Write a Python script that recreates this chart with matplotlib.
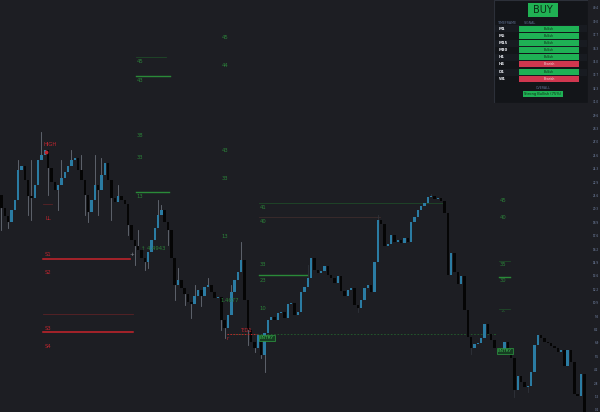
import matplotlib
matplotlib.use("Agg")
import matplotlib.pyplot as plt
from matplotlib.patches import Rectangle
import numpy as np

# price series (one value per candle)
first_open = 217
closes = [204, 196, 190, 202, 212, 242, 246, 232, 216, 214,
          227, 252, 257, 262, 244, 230, 222, 227, 234, 240,
          246, 252, 254, 242, 232, 217, 200, 212, 227, 222,
          237, 249, 232, 214, 210, 216, 212, 208, 187, 172,
          166, 162, 154, 150, 160, 172, 184, 197, 202, 190,
          182, 154, 127, 132, 124, 118, 110, 108, 116, 122,
          116, 125, 127, 120, 114, 115, 92, 84, 97, 120,
          132, 140, 152, 112, 82, 70, 64, 77, 57, 79,
          92, 95, 92, 99, 100, 94, 108, 109, 97, 100,
          120, 125, 134, 154, 142, 139, 141, 146, 137, 134,
          129, 136, 121, 116, 122, 124, 107, 104, 112, 124,
          127, 120, 150, 192, 188, 166, 168, 177, 170, 172,
          169, 174, 170, 190, 195, 202, 206, 209, 215, 216,
          213, 214, 211, 199, 137, 159, 140, 128, 136, 102,
          75, 64, 68, 69, 74, 88, 78, 72, 64, 62,
          60, 70, 60, 54, 22, 36, 30, 25, 26, 40,
          67, 77, 74, 70, 69, 66, 64, 60, 62, 46,
          62, 50, 18, 16, 38, 0]

# long wicks only (candle index -> price)
highs = {5: 252, 9: 252, 12: 280, 18: 252, 21: 262, 24: 257, 28: 257, 30: 254,
         35: 227, 41: 182, 47: 212, 48: 207, 53: 144, 58: 127, 62: 134, 69: 127,
         72: 170, 92: 147, 113: 197, 129: 218}
lows = {0: 182, 2: 184, 8: 197, 9: 192, 14: 217, 17: 202, 25: 197, 26: 190,
        29: 197, 33: 192, 38: 177, 40: 147, 43: 142, 44: 144, 50: 167, 52: 112,
        55: 107, 57: 94, 60: 106, 66: 82, 67: 74, 74: 67, 76: 60, 78: 54,
        79: 40, 107: 100, 141: 58, 154: 15, 158: 20}

# indicator levels: (price, start index, end index)
red_levels = [(153, 12.5, 38.6), (80, 12.5, 39.5)]
red_faint = [(98, 12.5, 39.5), (208, 12.5, 15.2)]
green_levels = [(336, 40.4, 50.6), (220, 40.4, 50.3), (137, 77.3, 91.7), (135, 149.4, 152.7)]
green_faint = [(209, 77.3, 133), (355, 40.4, 49.4), (151, 149.4, 152.7), (103, 149.4, 152.7)]
brown_faint = [(195, 77.3, 113.7)]
dotted_green = (78, 67.7, 148.8)
dotted_red = (78, 67.7, 76.8)

# level labels
green_labels = [("45", 41.6, 351), ("43", 41.6, 332), ("38", 41.6, 277), ("33", 41.6, 255), ("13", 41.6, 216),
                ("45", 67.1, 375), ("44", 67.1, 347), ("43", 67.1, 262), ("33", 67.1, 234), ("13", 67.1, 176),
                ("41", 78.5, 205), ("40", 78.5, 191), ("33", 78.5, 147), ("23", 78.5, 132), ("10", 78.5, 104),
                ("45", 150.6, 212), ("40", 150.6, 195), ("35", 150.6, 147), ("30", 150.6, 132), ("^", 150.6, 99),
                ("\u2191 4.4943", 45.5, 164), ("1.4677", 68.6, 111)]
red_labels = [("HIGH", 14.5, 268), ("LL", 14.0, 194), ("S1", 14.0, 158), ("S2", 14.0, 139),
              ("S3", 14.0, 84), ("S4", 14.0, 66), ("T:D1", 73.7, 82), ("r", 68.0, 73)]
entry_boxes = [("ENTRY", 79.7, 74), ("ENTRY", 151.2, 61)]

# dashboard
timeframes = ["M1", "M5", "M15", "M30", "H1", "H4", "D1", "W1"]
signals = ["Bullish", "Bullish", "Bullish", "Bullish", "Bullish", "Bearish", "Bullish", "Bearish"]
summary = "Strong Bullish (75%)"

bg = "#1d1e23"
up_col = "#2b7ca3"
dn_col = "#050505"
g_txt = "#2b8239"
r_txt = "#c0262f"

fig = plt.figure(figsize=(6, 4.12), dpi=100, facecolor=bg)
ax = fig.add_axes([0, 0, 1, 1], facecolor=bg)

n = len(closes)
opens = [first_open] + closes[:-1]
for i in range(n):
    o, c = opens[i], closes[i]
    top, bot = max(o, c), min(o, c)
    hi = highs.get(i, top)
    lo = lows.get(i, bot)
    wick_col = "#686d77" if i < 80 else "#30333a"
    if hi > top:
        ax.plot([i, i], [top, hi], color=wick_col, lw=0.6, zorder=2)
    if lo < bot:
        ax.plot([i, i], [lo, bot], color=wick_col, lw=0.6, zorder=2)
    col = up_col if c > o else dn_col
    ax.bar(i, max(top - bot, 1.2), bottom=bot, width=0.72, color=col, lw=0, zorder=3)

for p, a, b in red_levels:
    ax.plot([a, b], [p, p], color="#c8242b", lw=1.1, zorder=1)
for p, a, b in red_faint:
    ax.plot([a, b], [p, p], color="#5a2226", lw=0.6, zorder=1)
for p, a, b in green_levels:
    ax.plot([a, b], [p, p], color="#2a8a38", lw=1.0, zorder=1)
for p, a, b in green_faint:
    ax.plot([a, b], [p, p], color="#1f4a28", lw=0.6, zorder=1)
for p, a, b in brown_faint:
    ax.plot([a, b], [p, p], color="#3d2c2c", lw=0.6, zorder=1)
p, a, b = dotted_green
ax.plot([a, b], [p, p], color="#24602d", lw=0.6, ls=(0, (2, 2)), zorder=1)
p, a, b = dotted_red
ax.plot([a, b], [p, p], color="#c8242b", lw=0.7, ls=(0, (1.5, 1.5)), zorder=4)

for t, lx, ly in green_labels:
    ax.text(lx, ly, t, color=g_txt, fontsize=3.8, ha="center", va="center", zorder=5)
for t, lx, ly in red_labels:
    ax.text(lx, ly, t, color=r_txt, fontsize=3.8, ha="center", va="center", zorder=5)
ax.plot(13.4, 260, "o", color=r_txt, ms=1.8, zorder=5)
ax.text(39.2, 158, "+", color="#8a8f99", fontsize=4, ha="center", va="center", zorder=5)
for t, lx, ly in entry_boxes:
    ax.text(lx, ly, t, color="#3fbf55", fontsize=3.2, ha="center", va="center", zorder=6,
            bbox=dict(boxstyle="square,pad=0.25", fc="#163d22", ec="#2f9e44", lw=0.5))

ax.set_xlim(-0.45, 179.7)
ax.set_ylim(0, 412)
ax.axis("off")

# right price scale
for v in np.arange(1.6, 412, 13.4):
    ax.text(179.3, v, "%.1f" % (v / 10), color="#7b8db0", fontsize=2.0, ha="right", va="center")

# signal dashboard (panel coords are pixels inside the panel)
pan = fig.add_axes([494 / 600, 1 - 103 / 412, 94 / 600, 103 / 412])
pan.set_xlim(0, 94)
pan.set_ylim(103, 0)
pan.axis("off")
pan.add_patch(Rectangle((0, 0), 94, 103, fc="#131519", ec="#2c3039", lw=0.8))
pan.add_patch(Rectangle((34, 3), 30, 14, fc="#20b153", ec="none"))
pan.text(49, 10.3, "BUY", color="#0c2a15", fontsize=7, ha="center", va="center")
pan.text(4, 22.5, "TIMEFRAME", color="#5d6e90", fontsize=2.3, va="center")
pan.text(30, 22.5, "SIGNAL", color="#5d6e90", fontsize=2.3, va="center")
row_y = [28.5, 36, 43, 50, 57, 64, 72, 79]
for k, (tf, sg) in enumerate(zip(timeframes, signals)):
    yk = row_y[k]
    if k % 2 == 0:
        pan.add_patch(Rectangle((1, yk - 3.5), 92, 7, fc="#181b21", ec="none"))
    pan.text(5, yk, tf, color="#e6e8ee", fontsize=2.8, va="center", fontweight="bold")
    fc = "#1fb155" if sg == "Bullish" else "#d0374f"
    tc = "#0c2a15" if sg == "Bullish" else "#f2d6db"
    pan.add_patch(Rectangle((25, yk - 3), 60, 6, fc=fc, ec="none"))
    pan.text(55, yk, sg, color=tc, fontsize=2.2, ha="center", va="center")
pan.text(49, 88, "OVERALL", color="#5d6e90", fontsize=2.3, ha="center", va="center")
pan.add_patch(Rectangle((29, 90.5), 40, 6.5, fc="#1fb155", ec="none"))
pan.text(49, 93.8, summary, color="#0c2a15", fontsize=2.6, ha="center", va="center")

fig.savefig("out.png", dpi=100, facecolor=bg)
